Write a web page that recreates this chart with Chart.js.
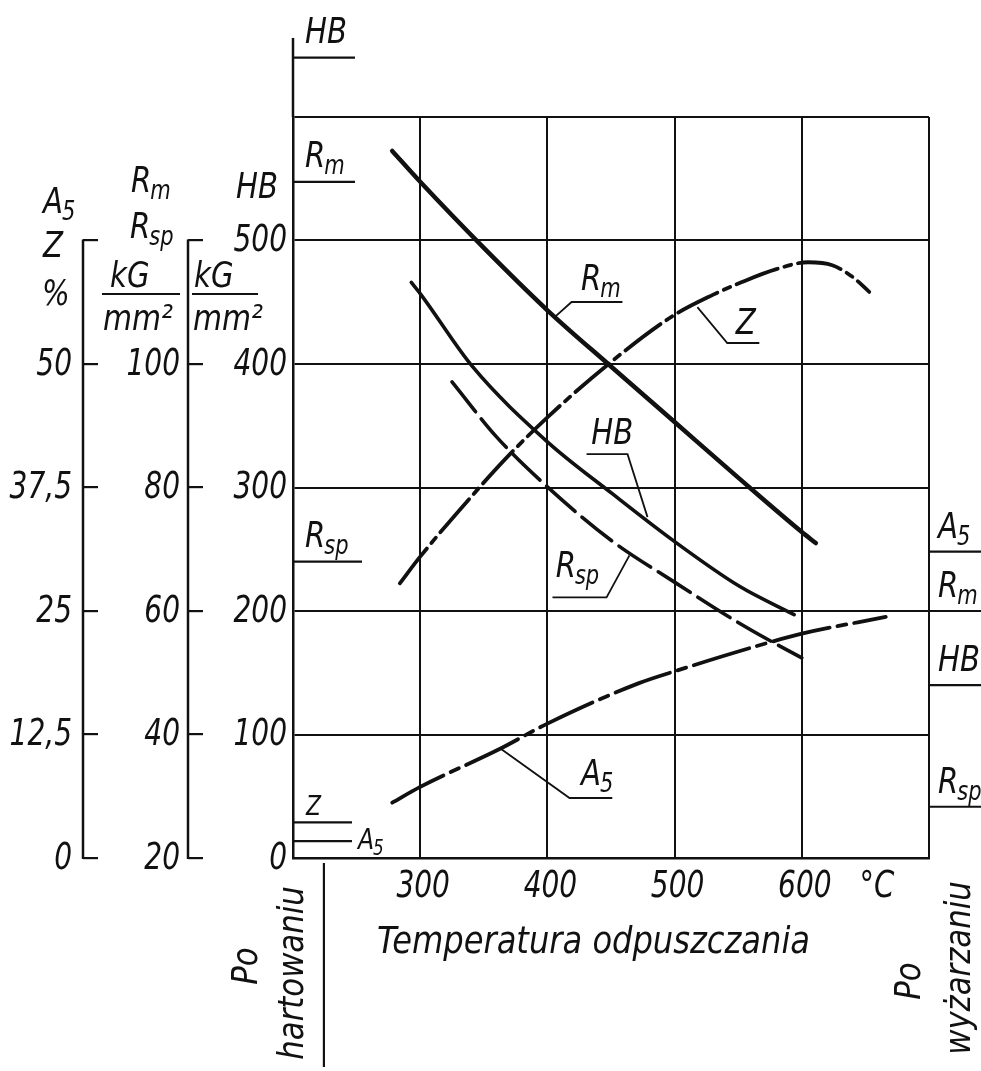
<!DOCTYPE html>
<html lang="pl">
<head>
<meta charset="utf-8">
<title>Odpuszczanie</title>
<script src="https://cdn.jsdelivr.net/npm/chart.js@4/dist/chart.umd.min.js"></script>
<style>
  html, body { margin: 0; padding: 0; background: #fff; overflow: hidden; }
  canvas { display: block; }
</style>
</head>
<body>
<canvas id="chart" width="981" height="1071"></canvas>
<script>
// Temperatura odpuszczania [°C] and the measured properties
const tempRm = [278, 300, 350, 400, 450, 500, 550, 600, 611];
const rmValues = [134.5, 129.5, 118.8, 108.7, 99.6, 90.6, 81.6, 72.8, 71.0];

const tempHB = [293, 300, 341, 400, 451, 499, 551, 594];
const hbValues = [466, 457, 398, 337, 295, 257, 220, 197];

const tempRsp = [325, 360, 400, 451, 499, 556, 600];
const rspValues = [97.1, 88.2, 80.1, 71.3, 64.8, 57.4, 52.4];

const tempZ = [284, 300, 341, 370, 400, 449, 499, 530, 553, 580, 605, 624, 640, 653];
const zValues = [27.8, 30.5, 36.7, 40.8, 44.6, 50.1, 54.9, 57.0, 58.3, 59.6, 60.3, 60.0, 58.8, 57.3];

const tempA5 = [278, 300, 362, 400, 472, 500, 574, 600, 666];
const a5Values = [5.6, 7.2, 11.0, 13.6, 17.7, 18.9, 21.8, 22.7, 24.4];

// values after quenching (left edge) and after annealing (right edge)
const quenchedNames = ['HB', 'Rm', 'Rsp', 'Z', 'A5'];
const quenchedValues = [648, 129.5, 68, 3.6, 1.7];
const annealedNames = ['A5', 'Rm', 'HB', 'Rsp'];
const annealedValues = [31, 60, 140, 28.3];

// axis ticks
const tempTicks = [200, 300, 400, 500, 600, 700];
const tempLabels = ['', '300', '400', '500', '600', ''];
const hbTicks = [0, 100, 200, 300, 400, 500, 600];
const hbLabels = ['0', '100', '200', '300', '400', '500', ''];
const strengthTicks = [20, 40, 60, 80, 100, 120];
const strengthLabels = ['20', '40', '60', '80', '100', ''];
const percentTicks = [0, 12.5, 25, 37.5, 50, 62.5];
const percentLabels = ['0', '12,5', '25', '37,5', '50', ''];

const FAMILY = '"DejaVu Sans Condensed", "DejaVu Sans", sans-serif';
const SIZE = 38;
const INK = '#111';

function font(size) {
    return `italic ${size}px ${FAMILY}`;
}

function pairs(xs, ys) {
    return xs.map((x, i) => ({ x: x, y: ys[i] }));
}

const axisOf = { HB: 'yHB', Rm: 'yR', Rsp: 'yR', Z: 'yA', A5: 'yA' };
const subOf = { HB: ['HB', ''], Rm: ['R', 'm'], Rsp: ['R', 'sp'], Z: ['Z', ''], A5: ['A', '5'] };

// lettering is narrower than the font, so squeeze it horizontally
function narrow(ctx, text, x, y, size, align, baseline, squeeze) {
    ctx.save();
    ctx.translate(x, y);
    ctx.scale(squeeze || 0.82, 1);
    ctx.font = font(size);
    ctx.textAlign = align || 'left';
    ctx.textBaseline = baseline || 'alphabetic';
    ctx.fillText(text, 0, 0);
    const w = ctx.measureText(text).width * (squeeze || 0.82);
    ctx.restore();
    return w;
}

// text with an optional subscript, left aligned on the baseline
function subText(ctx, name, x, y, size) {
    const [main, sub] = subOf[name] || [name, ''];
    const w = narrow(ctx, main, x, y, size, 'left', 'alphabetic', 0.9);
    if (sub) narrow(ctx, sub, x + w - 1, y + size * 0.2, size * 0.72, 'left', 'alphabetic', 0.9);
}

function line(ctx, pts, width) {
    ctx.lineWidth = width;
    ctx.beginPath();
    ctx.moveTo(pts[0][0], pts[0][1]);
    for (let i = 1; i < pts.length; i++) ctx.lineTo(pts[i][0], pts[i][1]);
    ctx.stroke();
}

function rotated(ctx, text, cx, cy) {
    ctx.save();
    ctx.translate(cx, cy);
    ctx.rotate(-Math.PI / 2);
    narrow(ctx, text, 0, 0, SIZE - 2, 'center', 'middle', 0.95);
    ctx.restore();
}

const notes = {
    id: 'notes',
    afterDraw(chart) {
        const ctx = chart.ctx;
        const area = chart.chartArea;
        const sx = chart.scales.x;
        const yHB = chart.scales.yHB;
        const yR = chart.scales.yR;
        const yA = chart.scales.yA;
        const px = t => sx.getPixelForValue(t);
        const py = h => yHB.getPixelForValue(h);

        ctx.save();
        ctx.strokeStyle = INK;
        ctx.fillStyle = INK;
        ctx.lineCap = 'butt';

        // tick labels
        tempTicks.forEach((t, i) => {
            if (tempLabels[i]) narrow(ctx, tempLabels[i], px(t) + 3, 897, SIZE, 'center');
        });
        [[yHB, hbTicks, hbLabels, 6], [yR, strengthTicks, strengthLabels, 23],
         [yA, percentTicks, percentLabels, 26]].forEach(([s, ticks, labels, gap]) => {
            ticks.forEach((v, i) => {
                if (labels[i]) narrow(ctx, labels[i], s.right - gap, s.getPixelForValue(v) + 1, SIZE, 'right', 'middle');
            });
        });

        // the two extra vertical scales
        [[yA, 0, 62.5], [yR, 20, 120]].forEach(([s, lo, hi]) => {
            const ax = s.right - 15;
            line(ctx, [[ax, s.getPixelForValue(lo) + 1], [ax, s.getPixelForValue(hi) - 1]], 2.5);
        });

        // left border carried up to the quenched hardness mark
        line(ctx, [[area.left, area.top], [area.left, py(664)]], 2.5);

        // quenched state marks on the left edge
        quenchedNames.forEach((name, i) => {
            const s = chart.scales[axisOf[name]];
            const y = s.getPixelForValue(quenchedValues[i]);
            const small = name === 'Z' || name === 'A5';
            const len = name === 'Rsp' ? 69 : (small ? 59 : 62);
            line(ctx, [[area.left, y], [area.left + len, y]], 2.2);
            if (name === 'A5') {
                subText(ctx, name, area.left + len + 6, y + 8, 29);
            } else if (name === 'Z') {
                subText(ctx, name, area.left + 13, y - 7, 27);
            } else {
                subText(ctx, name, area.left + 12, y - 15, SIZE - 2);
            }
        });

        // annealed state marks on the right edge
        annealedNames.forEach((name, i) => {
            const s = chart.scales[axisOf[name]];
            const y = s.getPixelForValue(annealedValues[i]);
            line(ctx, [[area.right, y], [chart.width, y]], 2.2);
            subText(ctx, name, area.right + 9, y - 14, SIZE - 2);
        });

        // curve callouts
        line(ctx, [[px(405.7), py(438)], [px(419), py(450.2)], [px(459), py(450.2)]], 1.8);
        subText(ctx, 'Rm', px(426.5), py(460), SIZE - 2);

        line(ctx, [[px(517.9), py(446)], [px(541.4), py(417)], [px(566.6), py(417)]], 1.8);
        subText(ctx, 'Z', px(548), py(424.5), SIZE - 2);

        line(ctx, [[px(430.8), py(327)], [px(463), py(327)], [px(478.7), py(276)]], 1.8);
        subText(ctx, 'HB', px(434.5), py(335.5), SIZE - 2);

        line(ctx, [[px(404), py(211)], [px(446.5), py(211)], [px(464.5), py(245)]], 1.8);
        subText(ctx, 'Rsp', px(406.5), py(227.5), SIZE - 2);

        line(ctx, [[px(362.5), py(89)], [px(417.4), py(48.6)], [px(451), py(48.6)]], 1.8);
        subText(ctx, 'A5', px(426.5), py(59.5), SIZE - 2);

        // scale titles on the left
        const axA = yA.right - 15;
        const axR = yR.right - 15;
        subText(ctx, 'A5', axA - 40, 213, SIZE - 2);
        subText(ctx, 'Z', axA - 40, 257, SIZE - 2);
        narrow(ctx, '%', axA - 41, 305, SIZE - 2, 'left', 'alphabetic', 0.9);

        subText(ctx, 'Rm', axR - 57, 192, SIZE - 2);
        subText(ctx, 'Rsp', axR - 58, 238, SIZE - 2);
        [[axR - 86, axR - 8, axR - 78], [axR + 4, axR + 70, axR + 6]].forEach(([x0, x1, tx]) => {
            narrow(ctx, 'kG', tx, 287, SIZE - 2, 'left', 'alphabetic', 0.9);
            line(ctx, [[x0, 294], [x1, 294]], 2);
            narrow(ctx, 'mm²', x0 + 1, 330, SIZE - 2, 'left', 'alphabetic', 0.92);
        });
        narrow(ctx, 'HB', area.left - 15, 198, SIZE - 2, 'right', 'alphabetic', 0.9);

        // temperature unit and axis title
        narrow(ctx, '°C', px(659), 897, SIZE, 'center', 'alphabetic', 0.85);
        narrow(ctx, 'Temperatura odpuszczania', px(266), 953, SIZE, 'left', 'alphabetic', 0.94);

        // states outside the temperature range
        line(ctx, [[px(224.3), 863], [px(224.3), 1067]], 2.2);
        rotated(ctx, 'Po', area.left - 45, 966);
        rotated(ctx, 'hartowaniu', area.left + 1, 973);
        rotated(ctx, 'Po', area.right - 18, 981);
        rotated(ctx, 'wyżarzaniu', area.right + 32, 968);

        ctx.restore();
    }
};

new Chart(document.getElementById('chart'), {
    type: 'line',
    data: {
        datasets: [
            {
                label: 'Rm', data: pairs(tempRm, rmValues), yAxisID: 'yR',
                borderColor: INK, borderWidth: 4.5
            },
            {
                label: 'HB', data: pairs(tempHB, hbValues), yAxisID: 'yHB',
                borderColor: INK, borderWidth: 3.6
            },
            {
                label: 'Rsp', data: pairs(tempRsp, rspValues), yAxisID: 'yR',
                borderColor: INK, borderWidth: 3.6, borderDash: [38, 9]
            },
            {
                label: 'Z', data: pairs(tempZ, zValues), yAxisID: 'yA',
                borderColor: INK, borderWidth: 3.8, borderDash: [44, 7, 7, 7]
            },
            {
                label: 'A5', data: pairs(tempA5, a5Values), yAxisID: 'yA',
                borderColor: INK, borderWidth: 3.8, borderDash: [58, 8, 9, 8]
            }
        ].map(d => Object.assign(d, {
            pointRadius: 0, fill: false, cubicInterpolationMode: 'monotone', borderCapStyle: 'round'
        }))
    },
    options: {
        responsive: false,
        animation: false,
        events: [],
        layout: { padding: { top: 117, right: 52, bottom: 113, left: 0 } },
        plugins: {
            legend: { display: false },
            tooltip: { enabled: false }
        },
        scales: {
            x: {
                type: 'linear', min: 200, max: 700,
                afterBuildTicks: s => { s.ticks = tempTicks.map(v => ({ value: v })); },
                afterFit: s => { s.height = 100; },
                grid: { color: INK, lineWidth: 2, drawTicks: false },
                border: { color: INK, width: 2.5 },
                ticks: { display: false }
            },
            yHB: {
                position: 'left', weight: 0, min: 0, max: 600,
                afterBuildTicks: s => { s.ticks = hbTicks.map(v => ({ value: v })); },
                afterFit: s => { s.width = 90; },
                grid: { color: INK, lineWidth: 2, drawTicks: false },
                border: { color: INK, width: 2.5 },
                ticks: { display: false }
            },
            yR: {
                position: 'left', weight: 1, min: 20, max: 140,
                afterBuildTicks: s => { s.ticks = strengthTicks.map(v => ({ value: v })); },
                afterFit: s => { s.width = 105; },
                grid: { drawOnChartArea: false, tickLength: 15, color: INK, lineWidth: 2.2 },
                border: { display: false },
                ticks: { display: false }
            },
            yA: {
                position: 'left', weight: 2, min: 0, max: 75,
                afterBuildTicks: s => { s.ticks = percentTicks.map(v => ({ value: v })); },
                afterFit: s => { s.width = 98; },
                grid: { drawOnChartArea: false, tickLength: 15, color: INK, lineWidth: 2.2 },
                border: { display: false },
                ticks: { display: false }
            }
        }
    },
    plugins: [notes]
});
</script>
</body>
</html>
